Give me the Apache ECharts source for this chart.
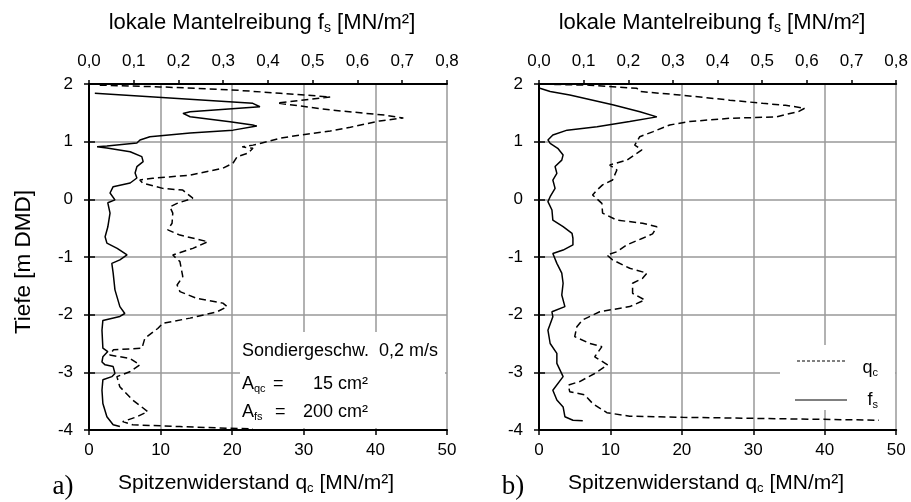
<!DOCTYPE html>
<html>
<head>
<meta charset="utf-8">
<script src="https://cdn.jsdelivr.net/npm/echarts@6/dist/echarts.min.js"></script>
<style>
html,body{margin:0;padding:0;background:#fff;}
#c{width:911px;height:502px;}
</style>
</head>
<body>
<div id="c"></div>
<script>
// ---------- data ----------
var depthTicks = [2, 1, 0, -1, -2, -3, -4];
var qcTicks = [0, 10, 20, 30, 40, 50];
var fsTicks = [0, 0.1, 0.2, 0.3, 0.4, 0.5, 0.6, 0.7, 0.8];

// panel a) cone resistance q_c [MN/m²]
var aQcDepth = [1.98,1.95,1.90,1.84,1.775,1.67,1.55,1.46,1.41,1.36,1.25,1.185,1.115,1.06,1.0,0.94,0.91,0.885,0.80,0.74,0.625,0.54,0.42,0.365,0.335,0.28,0.19,0.16,0.02,-0.07,-0.13,-0.24,-0.415,-0.53,-0.62,-0.735,-0.85,-0.965,-1.08,-1.34,-1.485,-1.60,-1.72,-1.80,-1.86,-1.95,-2.06,-2.15,-2.24,-2.41,-2.58,-2.61,-2.70,-2.76,-2.87,-2.99,-3.075,-3.25,-3.48,-3.68,-3.77,-3.855,-3.91,-3.94,-3.97,-3.98];
var aQcValue = [1.5,9.9,19.7,26.7,33.7,26.3,33.7,41.3,43.9,40.6,36.5,33.7,29.5,26.7,24.9,22.9,21.4,22.9,22.2,20.7,20.1,18.7,14.1,8.9,7.1,7.5,10.3,13.1,14.5,12.3,11.3,11.7,11.6,11.0,12.7,16.6,14.5,11.7,12.7,13.1,12.3,12.7,15.1,18.7,19.3,17.9,14.1,10.3,9.6,7.8,7.4,3.4,2.9,5.7,7.1,5.7,3.9,4.3,6.1,8.2,6.7,4.7,6.1,12.7,19.3,22.9];

// panel a) sleeve friction f_s [MN/m²]
var aFsDepth = [1.84,1.665,1.606,1.52,1.49,1.433,1.346,1.29,1.27,1.20,1.15,1.086,1.03,0.977,0.925,0.913,0.89,0.826,0.74,0.653,0.566,0.457,0.37,0.283,0.22,0.11,-0.01,-0.06,-0.24,-0.48,-0.65,-0.76,-0.85,-0.965,-1.05,-1.11,-1.28,-1.57,-1.86,-1.98,-2.03,-2.10,-2.27,-2.58,-2.64,-2.73,-2.82,-2.87,-2.90,-3.02,-3.075,-3.13,-3.31,-3.54,-3.77,-3.91,-3.94];
var aFsValue = [0.013,0.366,0.382,0.226,0.210,0.226,0.315,0.366,0.375,0.322,0.226,0.136,0.114,0.107,0.040,0.018,0.040,0.092,0.118,0.121,0.107,0.103,0.107,0.092,0.054,0.047,0.058,0.042,0.047,0.042,0.036,0.040,0.063,0.085,0.069,0.051,0.054,0.058,0.069,0.080,0.069,0.031,0.029,0.031,0.042,0.031,0.029,0.036,0.054,0.058,0.051,0.031,0.029,0.031,0.040,0.054,0.069];

// panel b) cone resistance q_c
var bQcDepth = [2.0,1.99,1.98,1.925,1.87,1.81,1.72,1.665,1.63,1.58,1.52,1.47,1.43,1.405,1.35,1.29,1.17,1.086,0.94,0.856,0.68,0.595,0.51,0.335,0.25,0.16,0.075,-0.07,-0.24,-0.36,-0.415,-0.475,-0.60,-0.675,-0.79,-0.91,-0.965,-1.05,-1.195,-1.28,-1.37,-1.455,-1.63,-1.745,-1.86,-1.95,-2.09,-2.21,-2.38,-2.50,-2.555,-2.73,-2.87,-3.02,-3.16,-3.22,-3.335,-3.39,-3.54,-3.70,-3.76,-3.78,-3.80,-3.83];
var bQcValue = [0.6,2.9,7.1,13.7,14.1,19.7,26.7,31.3,34.5,37.2,36.3,34.5,33.2,26.7,21.1,18.3,15.9,14.1,13.4,14.4,12.3,9.9,10.9,10.3,8.9,8.1,7.5,8.8,8.9,10.9,14.5,16.5,15.9,14.5,12.3,10.9,9.5,10.3,12.7,15.1,14.5,13.1,13.1,14.8,12.7,8.5,6.1,5.3,5.0,7.1,8.8,7.8,9.6,7.8,5.7,4.1,4.3,6.4,7.5,9.5,12.7,20.1,31.3,47.6];

// panel b) sleeve friction f_s
var bFsDepth = [1.925,1.87,1.81,1.64,1.52,1.43,1.35,1.26,1.20,1.115,1.03,0.97,0.885,0.77,0.68,0.57,0.45,0.335,0.19,0.045,-0.04,-0.185,-0.36,-0.475,-0.59,-0.675,-0.79,-0.88,-0.94,-1.11,-1.28,-1.455,-1.66,-1.86,-1.95,-2.035,-2.27,-2.50,-2.67,-2.845,-3.075,-3.31,-3.48,-3.60,-3.77,-3.83,-3.84];
var bFsValue = [0.002,0.025,0.069,0.165,0.226,0.264,0.203,0.130,0.063,0.031,0.020,0.025,0.042,0.054,0.051,0.036,0.040,0.031,0.036,0.025,0.020,0.029,0.031,0.054,0.074,0.076,0.076,0.054,0.031,0.040,0.051,0.054,0.051,0.058,0.029,0.031,0.020,0.025,0.040,0.040,0.054,0.031,0.040,0.054,0.058,0.076,0.098];

// ---------- chart ----------
var FONT = 'Liberation Sans';
function zip(v, d) { var r = []; for (var i = 0; i < v.length; i++) r.push([v[i], d[i]]); return r; }

var grids = [
  {left: 89, top: 84, width: 358, height: 346},
  {left: 539, top: 84, width: 358, height: 346}
];
var GRID_COLOR = '#999999';

var xAxes = [], yAxes = [];
grids.forEach(function (g, gi) {
  xAxes.push({
    gridIndex: gi, type: 'value', position: 'bottom',
    min: qcTicks[0], max: qcTicks[qcTicks.length - 1], interval: qcTicks[1] - qcTicks[0],
    axisLine: {show: true, onZero: false, lineStyle: {color: '#000', width: 2}},
    axisTick: {show: true, inside: false, length: 5, lineStyle: {color: '#000', width: 1.5}},
    axisLabel: {color: '#000', fontFamily: FONT, fontSize: 17, margin: 12},
    splitLine: {show: true, showMinLine: false, lineStyle: {color: GRID_COLOR, width: 1.5}}
  });
  xAxes.push({
    gridIndex: gi, type: 'value', position: 'top',
    min: fsTicks[0], max: fsTicks[fsTicks.length - 1], interval: 0.1,
    axisLine: {show: true, onZero: false, lineStyle: {color: '#000', width: 2}},
    axisTick: {show: true, inside: false, length: 4, lineStyle: {color: '#000', width: 1.5}},
    axisLabel: {color: '#000', fontFamily: FONT, fontSize: 17, margin: 14,
      formatter: function (v) { return v.toFixed(1).replace('.', ','); }},
    splitLine: {show: false}
  });
  yAxes.push({
    gridIndex: gi, type: 'value', position: 'left',
    min: depthTicks[depthTicks.length - 1], max: depthTicks[0], interval: 1,
    axisLine: {show: true, onZero: false, lineStyle: {color: '#000', width: 2}},
    axisTick: {show: true, inside: false, length: 5, lineStyle: {color: '#000', width: 1.5}},
    axisLabel: {color: '#000', fontFamily: FONT, fontSize: 17, margin: 16},
    splitLine: {show: true, showMinLine: false, showMaxLine: false, lineStyle: {color: GRID_COLOR, width: 1.5}}
  });
  yAxes.push({
    gridIndex: gi, type: 'value', position: 'left', offset: 0,
    min: depthTicks[depthTicks.length - 1], max: depthTicks[0], interval: 1,
    axisLine: {show: false, onZero: false},
    axisTick: {show: true, inside: true, length: 6, lineStyle: {color: '#000', width: 1.5}},
    axisLabel: {show: false},
    splitLine: {show: false}
  });
});

function lineSeries(data, xi, yi, dashed) {
  return {
    type: 'line', data: data, xAxisIndex: xi, yAxisIndex: yi,
    symbol: 'none', showSymbol: false, smooth: false, z: 5,
    lineStyle: {color: '#000', width: 1.5, type: dashed ? [7, 4] : 'solid'},
    animation: false
  };
}

function txt(x, y, text, size, align, extra) {
  var o = {
    type: 'text', x: x, y: y, z: 10,
    style: {
      text: text, fontFamily: FONT, fontSize: size, fill: '#000',
      align: align || 'center', verticalAlign: 'middle',
      rich: {
        s: {fontFamily: FONT, fontSize: Math.round(size * 0.62), fill: '#000', padding: [Math.round(size * 0.5), 0, 0, 0]},
        n: {fontFamily: FONT, fontSize: size, fill: '#000'}
      }
    }
  };
  if (extra) for (var k in extra) o[k] = extra[k];
  return o;
}

var graphics = [
  // white boxes behind the annotation and the legend
  {type: 'rect', z: 1, shape: {x: 240, y: 332, width: 205, height: 96}, style: {fill: '#fff'}},
  {type: 'rect', z: 1, shape: {x: 780, y: 345, width: 115, height: 65}, style: {fill: '#fff'}},
  // titles
  txt(262, 23, '{n|lokale Mantelreibung f}{s|s}{n| [MN/m²]}', 22),
  txt(712, 23, '{n|lokale Mantelreibung f}{s|s}{n| [MN/m²]}', 22),
  txt(256, 483, '{n|Spitzenwiderstand q}{s|c}{n| [MN/m²]}', 21),
  txt(706, 483, '{n|Spitzenwiderstand q}{s|c}{n| [MN/m²]}', 21),
  txt(24, 262, 'Tiefe [m DMD]', 22.5, 'center', {rotation: Math.PI / 2}),
  {type: 'text', x: 63, y: 487, z: 10, style: {text: 'a)', fontFamily: 'Liberation Serif', fontSize: 27, fill: '#000', align: 'center', verticalAlign: 'middle'}},
  {type: 'text', x: 513, y: 487, z: 10, style: {text: 'b)', fontFamily: 'Liberation Serif', fontSize: 27, fill: '#000', align: 'center', verticalAlign: 'middle'}},
  // annotation box
  txt(242, 351, 'Sondiergeschw.  0,2 m/s', 18, 'left'),
  txt(242, 384, '{n|A}{s|qc}', 18, 'left'),
  txt(273, 384, '=', 18, 'left'),
  txt(368, 384, '15 cm²', 18, 'right'),
  txt(242, 412, '{n|A}{s|fs}', 18, 'left'),
  txt(275, 412, '=', 18, 'left'),
  txt(368, 412, '200 cm²', 18, 'right'),
  // legend
  {type: 'line', z: 10, shape: {x1: 797, y1: 361, x2: 847, y2: 361}, style: {stroke: '#000', lineWidth: 1, lineDash: [3, 2]}},
  txt(878, 368, '{n|q}{s|c}', 18, 'right'),
  {type: 'line', z: 10, shape: {x1: 795, y1: 400, x2: 847, y2: 400}, style: {stroke: '#000', lineWidth: 1}},
  txt(878, 400, '{n|f}{s|s}', 18, 'right')
];

var chart = echarts.init(document.getElementById('c'), null, {renderer: 'canvas'});
chart.setOption({
  animation: false,
  backgroundColor: '#fff',
  grid: grids,
  xAxis: xAxes,
  yAxis: yAxes,
  series: [
    lineSeries(zip(aQcValue, aQcDepth), 0, 0, true),
    lineSeries(zip(aFsValue, aFsDepth), 1, 0, false),
    lineSeries(zip(bQcValue, bQcDepth), 2, 2, true),
    lineSeries(zip(bFsValue, bFsDepth), 3, 2, false)
  ],
  graphic: graphics
});
</script>
</body>
</html>
